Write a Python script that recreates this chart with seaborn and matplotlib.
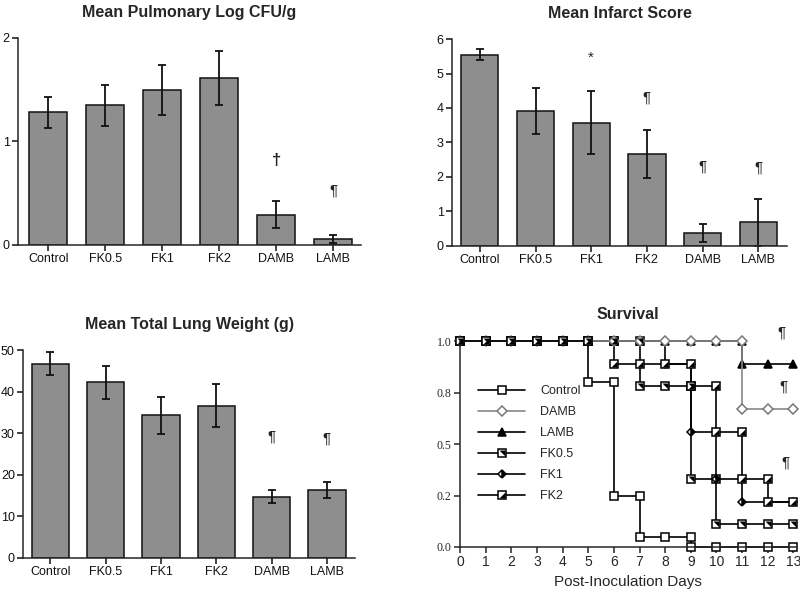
import numpy as np
import pandas as pd
import matplotlib
matplotlib.use("Agg")
import matplotlib.pyplot as plt
from matplotlib.lines import Line2D
from matplotlib.ticker import FormatStrFormatter
import seaborn as sns

# Bar chart data (mean +/- error)
groups = ["Control", "FK0.5", "FK1", "FK2", "DAMB", "LAMB"]

cfu_mean = [1.28, 1.35, 1.50, 1.61, 0.29, 0.06]
cfu_err = [0.15, 0.20, 0.24, 0.26, 0.13, 0.04]

infarct_mean = [5.55, 3.90, 3.57, 2.66, 0.37, 0.67]
infarct_err = [0.17, 0.67, 0.91, 0.69, 0.26, 0.67]

weight_mean = [46.7, 42.2, 34.3, 36.6, 14.7, 16.3]
weight_err = [2.8, 4.0, 4.4, 5.2, 1.5, 2.0]

# Survival data: fraction alive at end of each day
days = list(range(14))
surv_control = [1, 1, 1, 1, 1, 0.80, 0.25, 0.05, 0.05, 0, 0, 0, 0, 0]
surv_damb = [1, 1, 1, 1, 1, 1, 1, 1, 1, 1, 1, 0.67, 0.67, 0.67]
surv_lamb = [1, 1, 1, 1, 1, 1, 1, 1, 1, 1, 1, 0.89, 0.89, 0.89]
surv_fk05 = [1, 1, 1, 1, 1, 1, 1, 0.78, 0.78, 0.33, 0.11, 0.11, 0.11, 0.11]
surv_fk1 = [1, 1, 1, 1, 1, 1, 1, 1, 0.89, 0.56, 0.33, 0.22, 0.22, 0.22]
surv_fk2 = [1, 1, 1, 1, 1, 1, 0.89, 0.89, 0.89, 0.78, 0.56, 0.33, 0.22, 0.22]

sns.set_style("ticks")
plt.rcParams["font.family"] = ["Liberation Sans", "DejaVu Sans"]
plt.rcParams["axes.linewidth"] = 1.1
plt.rcParams["xtick.major.width"] = 1.1
plt.rcParams["ytick.major.width"] = 1.1

BAR_COLOR = "#8e8e8e"

fig = plt.figure(figsize=(8, 5.93), dpi=100)


def bar_panel(rect, means, errs, title, ylim, yticks, xlim):
    ax = fig.add_axes(rect)
    sns.barplot(x=groups, y=means, color=BAR_COLOR, edgecolor="#111111",
                linewidth=1.1, width=0.67, errorbar=None, saturation=1, ax=ax)
    ax.errorbar(range(len(groups)), means, yerr=errs, fmt="none",
                ecolor="#111111", elinewidth=1.3, capsize=3.2, capthick=1.3)
    ax.set_ylim(*ylim)
    ax.set_xlim(*xlim)
    ax.set_yticks(yticks)
    ax.set_xlabel("")
    ax.set_ylabel("")
    ax.tick_params(axis="both", labelsize=9, length=4, pad=2, colors="#111111")
    sns.despine(ax=ax)
    ax.set_title(title, fontsize=11.5, fontweight="bold", pad=15)
    return ax


# Mean Pulmonary Log CFU/g
ax1 = bar_panel([0.0225, 0.587, 0.429, 0.349], cfu_mean, cfu_err,
                "Mean Pulmonary Log CFU/g", (0, 2), [0, 1, 2], (-0.53, 5.49))
ax1.text(4, 0.82, "\u2020", ha="center", va="center", fontsize=12, fontweight="bold")
ax1.text(5, 0.53, "\u00b6", ha="center", va="center", fontsize=11)

# Mean Infarct Score
ax2 = bar_panel([0.565, 0.586, 0.419, 0.348], infarct_mean, infarct_err,
                "Mean Infarct Score", (0, 6), range(7), (-0.5, 5.52))
ax2.text(2, 5.45, "*", ha="center", va="center", fontsize=11)
ax2.text(3, 4.31, "\u00b6", ha="center", va="center", fontsize=11)
ax2.text(4, 2.30, "\u00b6", ha="center", va="center", fontsize=11)
ax2.text(5, 2.27, "\u00b6", ha="center", va="center", fontsize=11)

# Mean Total Lung Weight (g)
ax3 = bar_panel([0.029, 0.0596, 0.415, 0.350], weight_mean, weight_err,
                "Mean Total Lung Weight (g)", (0, 50), range(0, 51, 10), (-0.49, 5.51))
ax3.text(4, 29.1, "\u00b6", ha="center", va="center", fontsize=11)
ax3.text(5, 28.6, "\u00b6", ha="center", va="center", fontsize=11)

# Survival
ax4 = fig.add_axes([0.575, 0.0776, 0.42, 0.347])


def step_points(d, s):
    xs, ys = [d[0]], [s[0]]
    for day, prev, cur in zip(d[1:], s[:-1], s[1:]):
        xs.append(day)
        ys.append(prev)
        if cur != prev:
            xs.append(day)
            ys.append(cur)
    return xs, ys


tri_lr = [(-1, -1), (1, -1), (1, 1), (-1, -1)]   # lower-right black half
tri_ur = [(-1, 1), (1, 1), (1, -1), (-1, 1)]     # upper-right black half

series = [
    ("LAMB", surv_lamb, dict(marker="^", mfc="black", mec="black", ms=5.5), "black", None),
    ("FK0.5", surv_fk05, dict(marker="s", mfc="white", mec="black", ms=5.3), "black", tri_ur),
    ("FK1", surv_fk1, dict(marker="D", mfc="black", mec="black", ms=4.5,
                           fillstyle="right", markerfacecoloralt="white"), "black", None),
    ("FK2", surv_fk2, dict(marker="s", mfc="white", mec="black", ms=5.3), "black", tri_lr),
    ("DAMB", surv_damb, dict(marker="D", mfc="white", mec="#777777", ms=5), "#888888", None),
    ("Control", surv_control, dict(marker="s", mfc="white", mec="black", ms=6), "black", None),
]

handles = {}
for name, surv, mk, lc, tri in series:
    xs, ys = step_points(days, surv)
    df = pd.DataFrame({"day": xs, "surv": ys})
    sns.lineplot(data=df, x="day", y="surv", sort=False, estimator=None,
                 color=lc, linewidth=1.2, marker=mk["marker"],
                 markersize=mk["ms"], markerfacecolor=mk["mfc"],
                 markeredgecolor=mk["mec"], markeredgewidth=1.1,
                 fillstyle=mk.get("fillstyle", "full"),
                 markerfacecoloralt=mk.get("markerfacecoloralt", "none"),
                 clip_on=False, ax=ax4)
    base = Line2D([], [], color=lc, linewidth=1.2, marker=mk["marker"],
                  markersize=mk["ms"], markerfacecolor=mk["mfc"],
                  markeredgecolor=mk["mec"], markeredgewidth=1.1,
                  fillstyle=mk.get("fillstyle", "full"),
                  markerfacecoloralt=mk.get("markerfacecoloralt", "none"))
    if tri is not None:
        ax4.plot(xs, ys, linestyle="none", marker=tri, markersize=mk["ms"] - 1,
                 markerfacecolor="black", markeredgewidth=0, clip_on=False, zorder=3)
        top = Line2D([], [], linestyle="none", marker=tri, markersize=mk["ms"] - 1,
                     markerfacecolor="black", markeredgewidth=0)
        handles[name] = (base, top)
    else:
        handles[name] = base

order = ["Control", "DAMB", "LAMB", "FK0.5", "FK1", "FK2"]
ax4.legend([handles[n] for n in order], order, loc="upper left",
           bbox_to_anchor=(0.02, 0.84), frameon=False, fontsize=9,
           handlelength=3.8, handletextpad=1.2, labelspacing=0.72)

ax4.set_xlim(0, 13.1)
ax4.set_ylim(0, 1)
ax4.set_xticks(days)
ax4.set_yticks([0, 0.25, 0.5, 0.75, 1.0])
ax4.yaxis.set_major_formatter(FormatStrFormatter("%.1f"))
for lab in ax4.get_yticklabels():
    lab.set_fontfamily("Liberation Serif")
ax4.tick_params(axis="y", labelsize=8.5, length=4, pad=2)
ax4.tick_params(axis="x", labelsize=10, length=4, pad=2)
ax4.set_ylabel("")
ax4.set_xlabel("Post-Inoculation Days", fontsize=11, labelpad=4)
ax4.set_title("Survival", fontsize=11.5, fontweight="bold", pad=16)
sns.despine(ax=ax4)
ax4.text(12.54, 1.04, "\u00b6", ha="center", va="center", fontsize=11, clip_on=False)
ax4.text(12.63, 0.78, "\u00b6", ha="center", va="center", fontsize=11)
ax4.text(12.7, 0.41, "\u00b6", ha="center", va="center", fontsize=11)

fig.savefig("out.png", dpi=100)
